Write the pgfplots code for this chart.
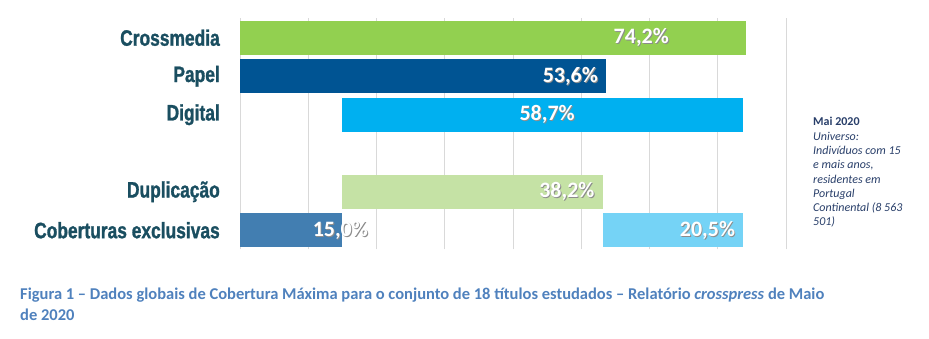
\documentclass[border=0pt]{standalone}
\usepackage{pgfplots}
\pgfplotsset{compat=1.18}
\usepackage{pgfplotstable}
\usepackage{fontspec}
\setmainfont{Carlito}
\newfontfamily\catfont[FakeStretch=0.78,FakeBold=1.2]{Liberation Sans}
\definecolor{cgreen}{RGB}{146,208,80}
\definecolor{cdblue}{RGB}{0,84,147}
\definecolor{ccyan}{RGB}{0,176,240}
\definecolor{clgreen}{RGB}{197,226,165}
\definecolor{csteel}{RGB}{66,126,177}
\definecolor{clblue}{RGB}{117,211,246}
\definecolor{ccat}{RGB}{26,78,96}
\definecolor{ccap}{RGB}{79,129,189}
\definecolor{cnote}{RGB}{40,62,105}

\pgfplotstableread{
y steel gap lblue lgreen cyan dblue green
0 15 38.2 20.5 0 0 0 0
1 0 15 0 38.2 0 0 0
3 0 15 0 0 58.7 0 0
4 0 0 0 0 0 53.6 0
5 0 0 0 0 0 0 74.2
}\data

\newcommand{\vlabel}[2]{%
  \node[text=black!45, font=\fontsize{22}{22}\selectfont\bfseries, xshift=0.9pt, yshift=-0.9pt] at (#1) {#2};
  \node[text=white, font=\fontsize{22}{22}\selectfont\bfseries] at (#1) {#2};
}

\begin{document}
\begin{tikzpicture}[x=1pt,y=1pt]
\useasboundingbox (0,0) rectangle (929,339);
\begin{axis}[
  at={(240pt,89.5pt)}, anchor=south west,
  scale only axis, width=546pt, height=231pt,
  xbar stacked, bar width=34pt,
  xmin=0, xmax=80, ymin=-0.5, ymax=5.5,
  xtick={0,10,...,80}, xticklabels={},
  xmajorgrids, grid style={color=black!15, line width=0.8pt},
  ytick={0,1,3,4,5},
  yticklabels={Coberturas exclusivas, Duplicação, Digital, Papel, Crossmedia},
  yticklabel style={anchor=east, inner sep=0pt, xshift=-20pt, text=ccat,
    font=\catfont\bfseries\fontsize{22.3}{22.3}\selectfont},
  major tick length=0pt,
  axis line style={draw=none},
  clip=false,
]
\addplot[fill=csteel, draw=none] table[x=steel, y=y] {\data};
\addplot[fill=none, draw=none] table[x=gap, y=y] {\data};
\addplot[fill=clblue, draw=none] table[x=lblue, y=y] {\data};
\addplot[fill=clgreen, draw=none] table[x=lgreen, y=y] {\data};
\addplot[fill=ccyan, draw=none] table[x=cyan, y=y] {\data};
\addplot[fill=cdblue, draw=none] table[x=dblue, y=y] {\data};
\addplot[fill=cgreen, draw=none] table[x=green, y=y] {\data};
\coordinate (L1) at (axis cs:58.8,5);
\coordinate (L2) at (axis cs:48.4,4);
\coordinate (L3) at (axis cs:45.0,3);
\coordinate (L4) at (axis cs:47.9,1);
\coordinate (L5) at (axis cs:68.5,0);
\coordinate (L6) at (axis cs:14.7,0);
\end{axis}
\vlabel{L1}{74,2\%}
\vlabel{L2}{53,6\%}
\vlabel{L3}{58,7\%}
\vlabel{L4}{38,2\%}
\vlabel{L5}{20,5\%}
\vlabel{L6}{15,0\%}
\node[anchor=base west, align=left, inner sep=0pt, text=cnote,
  font=\fontsize{12}{14.3}\selectfont] at (813,113)
  {\textbf{Mai 2020}\\ \textit{Universo:}\\ \textit{Indivíduos com 15}\\ \textit{e mais anos,}\\ \textit{residentes em}\\ \textit{Portugal}\\ \textit{Continental (8 563}\\ \textit{501)}};
\node[anchor=base west, inner sep=0pt, text=ccap, font=\fontsize{16.5}{21}\selectfont\bfseries] at (20,39)
  {Figura 1 – Dados globais de Cobertura Máxima para o conjunto de 18 títulos estudados – Relatório \textit{crosspress} de Maio};
\node[anchor=base west, inner sep=0pt, text=ccap, font=\fontsize{16.5}{21}\selectfont\bfseries] at (20,18)
  {de 2020};
\end{tikzpicture}
\end{document}
